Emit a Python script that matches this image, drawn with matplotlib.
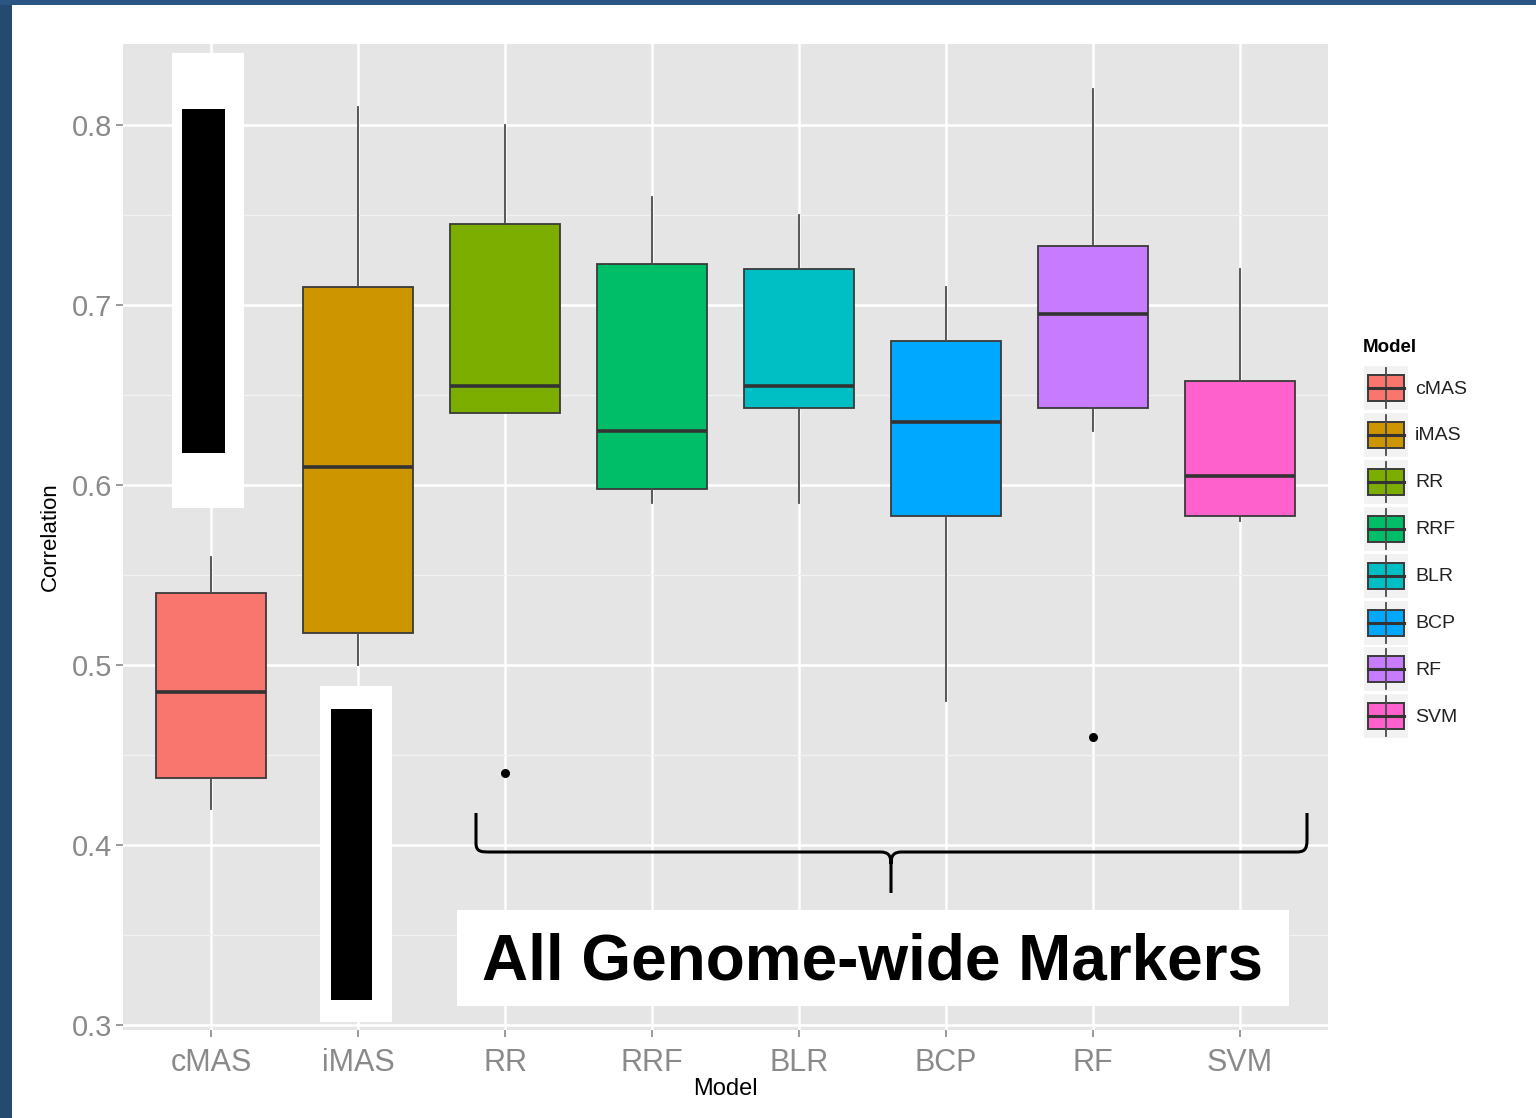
import matplotlib.pyplot as plt
from matplotlib.patches import Rectangle, PathPatch
from matplotlib.path import Path

plt.rcParams['font.family'] = ['Liberation Sans', 'DejaVu Sans']

# box statistics
models = ['cMAS', 'iMAS', 'RR', 'RRF', 'BLR', 'BCP', 'RF', 'SVM']
colors = ['#F8766D', '#CD9600', '#7CAE00', '#00BE67', '#00BFC4', '#00A9FF', '#C77CFF', '#FF61CC']
whis_hi = [0.56, 0.81, 0.80, 0.76, 0.75, 0.71, 0.82, 0.72]
q3 = [0.540, 0.710, 0.745, 0.723, 0.720, 0.680, 0.733, 0.658]
median = [0.485, 0.610, 0.655, 0.630, 0.655, 0.635, 0.695, 0.605]
q1 = [0.437, 0.518, 0.640, 0.598, 0.643, 0.583, 0.643, 0.583]
whis_lo = [0.420, 0.500, 0.640, 0.590, 0.590, 0.480, 0.630, 0.580]
outliers = [[], [], [0.44], [], [], [], [0.46], []]

W, H = 1536, 1118
fig = plt.figure(figsize=(W / 100, H / 100), dpi=100)
fig.patch.set_facecolor('white')

ax = fig.add_axes([123 / W, (H - 1030) / H, (1328 - 123) / W, (1030 - 44) / H])
ax.set_facecolor('#E5E5E5')

stats = []
for i, m in enumerate(models):
    stats.append(dict(label=m, med=median[i], q1=q1[i], q3=q3[i],
                      whislo=whis_lo[i], whishi=whis_hi[i], fliers=outliers[i]))

bp = ax.bxp(stats, positions=range(1, len(models) + 1), widths=0.75,
            patch_artist=True, showcaps=False,
            boxprops=dict(edgecolor='#3a3a3a', linewidth=1.3),
            whiskerprops=dict(color='#4a4a4a', linewidth=1.3),
            medianprops=dict(color='#333333', linewidth=2.6),
            flierprops=dict(marker='o', markerfacecolor='black', markeredgecolor='black', markersize=5.5),
            zorder=3)
for patch, c in zip(bp['boxes'], colors):
    patch.set_facecolor(c)

ax.set_xlim(0.4, 8.6)
ax.set_ylim(0.2972, 0.845)
ax.set_yticks([0.3, 0.4, 0.5, 0.6, 0.7, 0.8])
ax.set_yticks([0.35, 0.45, 0.55, 0.65, 0.75], minor=True)
ax.set_xticks(range(1, len(models) + 1))
ax.set_xticklabels(models)
ax.grid(which='major', color='white', linewidth=1.8, zorder=0)
ax.grid(which='minor', axis='y', color='#F2F2F2', linewidth=1.0, zorder=0)
ax.set_axisbelow(True)
for s in ax.spines.values():
    s.set_visible(False)
ax.tick_params(which='major', length=5, width=1.2, color='#8a8a8a', labelcolor='#8a8a8a',
               labelsize=21, pad=3)
ax.tick_params(axis='x', which='major', labelsize=22, pad=8)
ax.tick_params(which='minor', length=0)
ax.set_xlabel('Model', fontsize=17, color='black', labelpad=0)
ax.set_ylabel('Correlation', fontsize=16, color='black', labelpad=8)

# overlay in pixel coordinates: border, masks, brace, label, legend
ov = fig.add_axes([0, 0, 1, 1], zorder=5)
ov.set_xlim(0, W)
ov.set_ylim(H, 0)
ov.axis('off')
ov.patch.set_alpha(0)

ov.add_patch(Rectangle((0, 0), 12, H, color='#25496f', lw=0))
ov.add_patch(Rectangle((0, 0), W, 5, color='#2b5582', lw=0))

ov.add_patch(Rectangle((172, 53), 72, 455, color='white', lw=0))
ov.add_patch(Rectangle((182, 109), 43, 344, color='black', lw=0))
ov.add_patch(Rectangle((320, 686), 72, 336, color='white', lw=0))
ov.add_patch(Rectangle((331, 709), 41, 291, color='black', lw=0))

verts = [(476, 813), (476, 843), (476, 852), (481, 852), (491, 852), (880, 852),
         (888, 852), (891, 855), (891, 864), (891, 893),
         (891, 864), (891, 855), (894, 852), (902, 852), (1296, 852),
         (1304, 852), (1307, 850), (1307, 840), (1307, 813)]
codes = [Path.MOVETO, Path.LINETO, Path.CURVE4, Path.CURVE4, Path.CURVE4, Path.LINETO,
         Path.CURVE4, Path.CURVE4, Path.CURVE4, Path.LINETO,
         Path.MOVETO, Path.CURVE4, Path.CURVE4, Path.CURVE4, Path.LINETO,
         Path.CURVE4, Path.CURVE4, Path.CURVE4, Path.LINETO]
ov.add_patch(PathPatch(Path(verts, codes), facecolor='none', edgecolor='black', lw=2.2))

ov.add_patch(Rectangle((457, 910), 832, 96, color='white', lw=0))
ov.text(873, 962, 'All Genome-wide Markers', fontsize=46, fontweight='bold',
        ha='center', va='center', color='black')

# legend
ov.text(1363, 347, 'Model', fontsize=13.5, fontweight='bold', ha='left', va='center')
for i, (m, c) in enumerate(zip(models, colors)):
    yc = 388 + 46.9 * i
    ov.add_patch(Rectangle((1364, yc - 22), 44, 44, color='#F2F2F2', lw=0))
    ov.plot([1386, 1386], [yc - 20, yc + 20], color='#4a4a4a', lw=1.3)
    ov.add_patch(Rectangle((1368, yc - 13), 36, 26, facecolor=c, edgecolor='#3a3a3a', lw=1.4))
    ov.plot([1368, 1404], [yc, yc], color='#333333', lw=2.2)
    ov.text(1415, yc + 1, m, fontsize=14, ha='left', va='center', color='#222222')

fig.savefig('out.png', dpi=100)
